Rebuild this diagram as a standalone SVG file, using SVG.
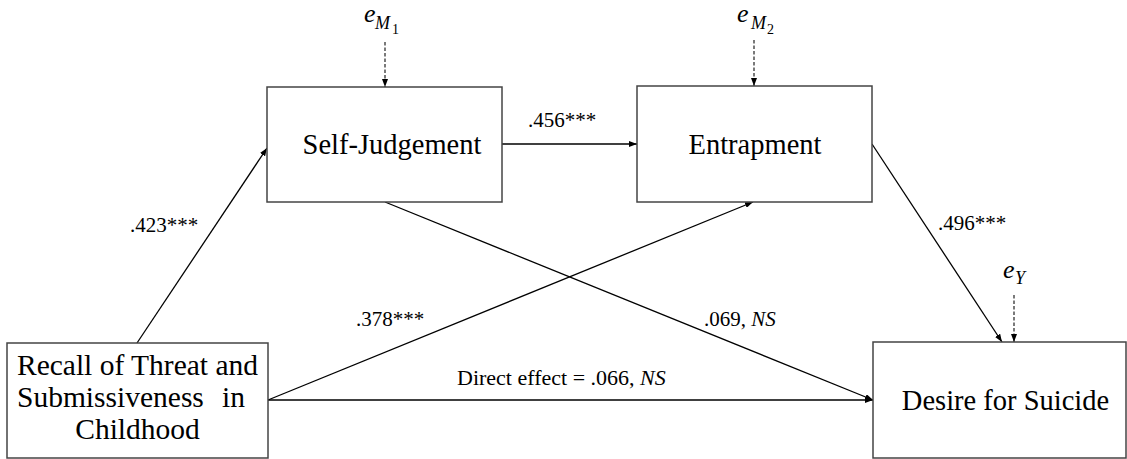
<svg xmlns="http://www.w3.org/2000/svg" width="1127" height="459" viewBox="0 0 1127 459">
<style>
.box{fill:#fff;stroke:#444;stroke-width:1.5}
text{font-family:"Liberation Serif","Times New Roman",Times,serif;fill:#000}
.n{font-size:28.5px}
.lab{font-size:21px}
.ln{stroke:#000;stroke-width:1.3;fill:none;marker-end:url(#ah)}
.dash{stroke:#222;stroke-width:1.2;fill:none;stroke-dasharray:3.5 2;marker-end:url(#ah)}
.e{font-style:italic;font-size:26px}
.s{font-style:italic;font-size:18px}
.ss{font-size:14px}
</style>
<defs>
<marker id="ah" markerWidth="8" markerHeight="6" refX="8" refY="3" orient="auto" markerUnits="userSpaceOnUse">
<path d="M0,0 L8,3 L0,6 z" fill="#000"/>
</marker>
</defs>
<rect width="1127" height="459" fill="#fff"/>
<g id="connectors">
<line class="ln" x1="137" y1="343" x2="267" y2="148"/>
<line class="ln" x1="502" y1="144" x2="637" y2="144"/>
<line class="ln" x1="268" y1="400" x2="753" y2="202"/>
<line class="ln" x1="385" y1="202" x2="873" y2="400"/>
<line class="ln" x1="268" y1="400" x2="873" y2="400"/>
<line class="ln" x1="872" y1="144" x2="1002" y2="342"/>
<line class="dash" x1="385" y1="42" x2="385" y2="87"/>
<line class="dash" x1="754" y1="40" x2="754" y2="86"/>
<line class="dash" x1="1014" y1="295" x2="1014" y2="342"/>
</g>
<g id="labels">
<text class="lab" x="130" y="232">.423***</text>
<text class="lab" x="528" y="127">.456***</text>
<text class="lab" x="938" y="230">.496***</text>
<text class="lab" x="356" y="326">.378***</text>
<text class="lab" x="704" y="326">.069, <tspan font-style="italic">NS</tspan></text>
<text x="457" y="385" font-size="22">Direct effect = .066, <tspan font-style="italic">NS</tspan></text>
</g>
<g id="eM1">
<text class="e" x="364" y="22">e</text>
<text class="s" x="375" y="29">M</text>
<text class="ss" x="392" y="34">1</text>
</g>
<g id="eM2">
<text class="e" x="737" y="22">e</text>
<text class="s" x="751" y="29">M</text>
<text class="ss" x="767" y="34">2</text>
</g>
<g id="eY">
<text class="e" x="1003" y="278">e</text>
<text class="s" x="1015" y="284">Y</text>
</g>
<g id="recall">
<rect class="box" x="7" y="343" width="261" height="115"/>
<text font-size="29.5" x="137.5" y="375" text-anchor="middle">Recall of Threat and</text>
<text font-size="29.5" x="17" y="407">Submissiveness</text>
<text font-size="29.5" x="222" y="407">in</text>
<text font-size="29.5" x="137.5" y="439" text-anchor="middle">Childhood</text>
</g>
<g id="selfjudgement">
<rect class="box" x="267" y="87" width="235" height="115"/>
<text class="n" x="392" y="154" text-anchor="middle">Self-Judgement</text>
</g>
<g id="entrapment">
<rect class="box" x="637" y="86" width="235" height="116"/>
<text class="n" x="755" y="154" text-anchor="middle">Entrapment</text>
</g>
<g id="desire">
<rect class="box" x="873" y="342" width="253" height="116"/>
<text class="n" x="1005.5" y="410" text-anchor="middle">Desire for Suicide</text>
</g>
</svg>
